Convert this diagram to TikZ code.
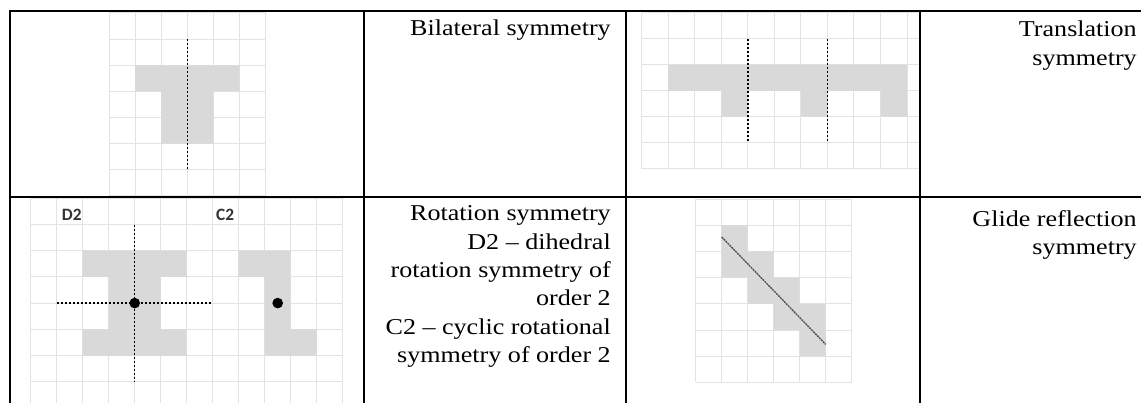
\documentclass[tikz,border=0pt]{standalone}
\usepackage{fontspec}
\newfontfamily\capfont[FakeStretch=1.15]{Liberation Serif}
\newfontfamily\tagfont{Carlito}
\usetikzlibrary{positioning}

\begin{document}
\begin{tikzpicture}[
  x=0.75pt, y=-0.75pt,
  rule/.style={line width=1.5pt},
  cellgrid/.style={draw=black!11, line width=0.75pt},
  shade/.style={fill=black!15},
  axis/.style={line width=1pt, dash pattern=on 1.5pt off 1.5pt},
  glideaxis/.style={draw=black!70, line width=1pt, dash pattern=on 1.5pt off 0.6pt},
  caption/.style={font={\capfont\fontsize{17}{21.3}\selectfont}, align=right, inner sep=0pt, anchor=north east},
  tag/.style={font={\tagfont\bfseries\fontsize{13}{15}\selectfont}, text=black!80, inner sep=0pt, anchor=base west},
  dot/.style={fill=black}
]
\useasboundingbox (0,0) rectangle (1141,403);

% bilateral
\begin{scope}[shift={(109,13)}, x=19.575pt, y=-19.6pt]
  \foreach \c in {0,...,6} \draw[cellgrid] (\c,0) -- (\c,7);
  \foreach \r in {0,...,7} \draw[cellgrid] (0,\r) -- (6,\r);
  \fill[shade] (1,2) rectangle (5,3) (2,3) rectangle (4,5);
  \draw[axis] (3,1) -- (3,6);
\end{scope}

% translation
\begin{scope}[shift={(641.7,13)}, x=19.9pt, y=-19.45pt]
  \foreach \c in {0,...,10} \draw[cellgrid] (\c,0) -- (\c,6);
  \foreach \r in {0,...,6} \draw[cellgrid] (0,\r) -- (10.49,\r);
  \fill[shade] (1,2) rectangle (10,3) (3,3) rectangle (4,4)
    (6,3) rectangle (7,4) (9,3) rectangle (10,4);
  \draw[axis] (4,1) -- (4,5);
  \draw[axis] (7,1) -- (7,5);
\end{scope}

% rotation D2 / C2
\begin{scope}[shift={(30.7,198.3)}, x=19.5pt, y=-19.65pt]
  \foreach \c in {0,...,12} \draw[cellgrid] (\c,0) -- (\c,7.81);
  \foreach \r in {0,...,7} \draw[cellgrid] (0,\r) -- (12,\r);
  \fill[shade] (2,2) rectangle (6,3) (3,3) rectangle (5,5) (2,5) rectangle (6,6);
  \fill[shade] (8,2) rectangle (10,3) (9,3) rectangle (10,5) (9,5) rectangle (11,6);
  \draw[axis] (1,4) -- (7,4);
  \draw[axis] (4,1) -- (4,7);
  \coordinate (ctrD) at (4,4);
  \coordinate (ctrC) at (9.5,4);
  \fill[dot] (ctrD) circle[radius=4pt];
  \fill[dot] (ctrC) circle[radius=4pt];
  \node[tag] (lblD) at (1.19,0.86) {D2};
  \node[tag] (lblC) at (7.12,0.86) {C2};
\end{scope}

% glide reflection
\begin{scope}[shift={(695.7,199)}, x=19.5pt, y=-19.65pt]
  \foreach \c in {0,...,6} \draw[cellgrid] (\c,0) -- (\c,7);
  \foreach \r in {0,...,7} \draw[cellgrid] (0,\r) -- (6,\r);
  \fill[shade] (1,1) rectangle (2,3) (2,2) rectangle (3,4)
    (3,3) rectangle (4,5) (4,4) rectangle (5,6);
  \draw[glideaxis] (1,1.45) -- (5,5.55);
\end{scope}

% table rules
\draw[rule] (1141,11.5) -- (9.5,11.5) -- (9.5,403);
\draw[rule] (9.5,197) -- (1141,197);
\draw[rule] (364,11.5) -- (364,403);
\draw[rule] (626,11.5) -- (626,403);
\draw[rule] (920,11.5) -- (920,403);

% captions
\node[caption] (bilat) at (611,19.5) {Bilateral symmetry};
\node[caption] (transl) at (1137,21) {Translation\\symmetry};
\node[caption] (rotat) at (611,205.5) {Rotation symmetry\\D2 – dihedral\\rotation symmetry of\\order 2\\C2 – cyclic rotational\\symmetry of order 2};
\node[caption] (glide) at (1137,210) {Glide reflection\\symmetry};
\end{tikzpicture}
\end{document}
